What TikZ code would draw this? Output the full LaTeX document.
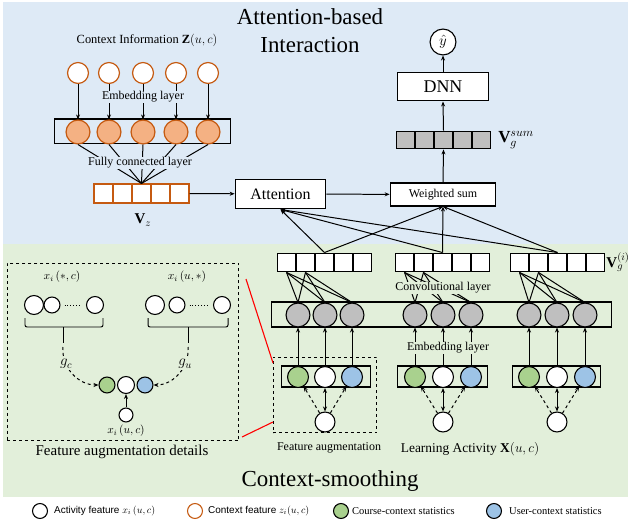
\RequirePackage{fix-cm}
\documentclass[tikz,border=0pt]{standalone}
\usepackage{fontspec}
\setmainfont{Liberation Serif}
\newfontfamily\legendsans{Liberation Sans}
\usepackage{amsmath}
\usepackage{tikz}
\usetikzlibrary{arrows.meta, positioning}
\definecolor{bgblue}{RGB}{222,234,246}
\definecolor{bggreen}{RGB}{226,239,218}
\definecolor{ctxorange}{RGB}{197,90,17}
\definecolor{ctxfill}{RGB}{244,177,131}
\definecolor{crsgreen}{RGB}{169,209,142}
\definecolor{usrblue}{RGB}{157,195,230}
\definecolor{embgray}{RGB}{191,191,191}
\tikzset{
  bigtitle/.style={font=\fontsize{23}{28}\selectfont, align=center, inner sep=0pt},
  ctxin/.style={circle, draw=ctxorange, fill=white, line width=1.2pt, minimum size=21pt, inner sep=0pt},
  ctxemb/.style={circle, draw=ctxorange, fill=ctxfill, line width=1.2pt, minimum size=24pt, inner sep=0pt},
  embnode/.style={circle, draw=black, fill=embgray, line width=1.1pt, minimum size=24pt, inner sep=0pt},
  featnode/.style={circle, draw=black, fill=#1, line width=1.1pt, minimum size=21pt, inner sep=0pt},
  featnode/.default=white,
  dnode/.style={circle, draw=black, fill=#1, line width=1.1pt, minimum size=17pt, inner sep=0pt},
  dnode/.default=white,
  cell/.style={rectangle, draw=#1, fill=white, line width=1pt, minimum width=19pt, minimum height=19pt, inner sep=0pt},
  cell/.default=black,
  layerbox/.style={rectangle, draw=black, line width=1.1pt, inner sep=0pt},
  dashbox/.style={rectangle, draw=black, dashed, line width=1.1pt, inner sep=0pt},
  opbox/.style={rectangle, draw=black, fill=white, line width=1.1pt, inner sep=0pt},
  lbl/.style={fill=#1, inner sep=1pt, font=\fontsize{12}{14}\selectfont},
  lbl/.default=bggreen,
  mathlbl/.style={inner sep=1pt, font=\fontsize{15}{17}\selectfont},
  arr/.style={line width=1pt, -{Stealth[length=5pt, width=4pt]}},
  arrboth/.style={line width=1pt, {Stealth[length=5pt, width=4pt]}-{Stealth[length=5pt, width=4pt]}},
  conn/.style={line width=1pt},
  legtxt/.style={inner sep=1pt, font=\legendsans\fontsize{10}{12}\selectfont},
  legtxtserif/.style={inner sep=1pt, font=\fontsize{10.5}{12}\selectfont},
}

\begin{document}
\begin{tikzpicture}[x=1bp, y=-1bp]
\useasboundingbox (0,0) rectangle (631,522);
% Fonds
\fill[bgblue] (3,2) rectangle (628,244);
\fill[bggreen] (3,244) rectangle (628,497);
% Titres
\node[bigtitle] (ttop) at (310,31) {Attention-based\\Interaction};
\node[bigtitle] (tbot) at (330,481) {Context-smoothing};

% Contexte - entrees
\node[lbl=bgblue, font=\fontsize{12.5}{14}\selectfont] (ctxtitle) at (147,40) {Context Information $\mathbf{Z}(u,c)$};
\node[ctxin] (z1) at (78,73) {};
\node[ctxin] (z2) at (109,73) {};
\node[ctxin] (z3) at (143,73) {};
\node[ctxin] (z4) at (176,73) {};
\node[ctxin] (z5) at (208,73) {};
% Contexte - plongement
\node[layerbox, minimum width=177pt, minimum height=25pt] (zbox) at (142.5,131.5) {};
\node[ctxemb] (e1) at (78,132) {};
\node[ctxemb] (e2) at (109,132) {};
\node[ctxemb] (e3) at (143,132) {};
\node[ctxemb] (e4) at (176,132) {};
\node[ctxemb] (e5) at (208,132) {};
% Vecteur V_z
\foreach \i/\x in {1/103.5,2/122.5,3/141.5,4/160.5,5/179.5}
  \node[cell=ctxorange, line width=1.2pt] (vz\i) at (\x,193.5) {};
\node[mathlbl] (vzlbl) at (143,220) {$\mathbf{V}_z$};

% Attention et somme
\node[opbox, minimum width=91pt, minimum height=30pt, font=\fontsize{16}{18}\selectfont] (att) at (280.5,194) {Attention};
\node[opbox, minimum width=106pt, minimum height=23pt, font=\fontsize{12}{14}\selectfont] (wsum) at (443,194.5) {Weighted sum};
\foreach \i/\x in {1/405.5,2/424.5,3/443.5,4/462.5,5/481.5}
  \node[cell, fill=embgray, minimum height=18pt] (vs\i) at (\x,140) {};
\node[mathlbl, font=\fontsize{17}{19}\selectfont] (vslbl) at (516,140) {$\mathbf{V}_g^{sum}$};
\node[opbox, minimum width=92pt, minimum height=29pt, font=\fontsize{18}{20}\selectfont] (dnn) at (443,86.5) {DNN};
\node[circle, draw, fill=white, line width=1.1pt, minimum size=26pt, inner sep=0pt, font=\fontsize{15}{17}\selectfont] (yhat) at (443,42) {$\hat{y}$};

% Vecteurs V_g^(i)
\foreach \c/\x in {a/286.5,b/305.5,c/324.5,d/343.5,e/362.5}
  \node[cell] (vg1\c) at (\x,262.5) {};
\foreach \c/\x in {a/404.5,b/423.5,c/442.5,d/461.5,e/480.5}
  \node[cell] (vg2\c) at (\x,262.5) {};
\foreach \c/\x in {a/519.5,b/538.5,c/557.5,d/576.5,e/595.5}
  \node[cell] (vg3\c) at (\x,262.5) {};
\node[mathlbl] (vglbl) at (618,262) {$\mathbf{V}_g^{(i)}$};

% Couche de plongement
\node[layerbox, minimum width=341pt, minimum height=25pt] (embrow) at (441.5,314.5) {};
\node[embnode] (h11) at (298,315) {};
\node[embnode] (h12) at (325,315) {};
\node[embnode] (h13) at (352,315) {};
\node[embnode] (h21) at (415,315) {};
\node[embnode] (h22) at (443,315) {};
\node[embnode] (h23) at (471,315) {};
\node[embnode] (h31) at (529,315) {};
\node[embnode] (h32) at (557,315) {};
\node[embnode] (h33) at (585,315) {};

% Features augmentees
\node[layerbox, minimum width=90pt, minimum height=21pt] (fbox1) at (326,376.5) {};
\node[layerbox, minimum width=91pt, minimum height=21pt] (fbox2) at (442.5,376.5) {};
\node[layerbox, minimum width=89pt, minimum height=21pt] (fbox3) at (556.5,376.5) {};
\node[featnode=crsgreen] (f11) at (298,377) {};
\node[featnode] (f12) at (325,377) {};
\node[featnode=usrblue] (f13) at (352,377) {};
\node[featnode=crsgreen] (f21) at (415,377) {};
\node[featnode] (f22) at (443,377) {};
\node[featnode=usrblue] (f23) at (471,377) {};
\node[featnode=crsgreen] (f31) at (529,377) {};
\node[featnode] (f32) at (557,377) {};
\node[featnode=usrblue] (f33) at (585,377) {};
% Activites
\node[featnode, minimum size=20pt] (x1) at (325,422) {};
\node[featnode, minimum size=20pt] (x2) at (443,422) {};
\node[featnode, minimum size=20pt] (x3) at (557,422) {};
\node[dashbox, minimum width=104pt, minimum height=76pt] (faug) at (325,395) {};
\node[lbl, font=\fontsize{12}{14}\selectfont] (fauglbl) at (329,448) {Feature augmentation};
\node[lbl, font=\fontsize{13.5}{15}\selectfont] (actlbl) at (470,449) {Learning Activity $\mathbf{X}(u,c)$};

% Connexions contexte
\foreach \i in {1,...,5}
  \draw[arr] (z\i) -- (e\i);
\node[lbl=bgblue] (embtop) at (143,97) {Embedding layer};
\foreach \i in {1,...,5}
  \draw[conn] (e\i.south) -- (vz3.north);
\node[lbl=bgblue] (fclbl) at (140,163) {Fully connected layer};
\draw[arr] (vz5) -- (att);
\draw[arr] (att) -- (wsum);
\draw[arr] (wsum.north) -- (vs3.south);
\draw[arr] (vs3.north) -- (dnn.south);
\draw[arr] (dnn) -- (yhat);

% Connexions attention
\foreach \g in {1,2,3} {
  \draw[arr] (vg\g c.north) -- (att.south);
  \draw[arr] (vg\g c.north) -- (wsum.south);
}
% Connexions convolution
\foreach \g in {1,2,3}
  \foreach \c in {a,b}
    \foreach \h in {1,2,3}
      \draw[conn] (vg\g\c.south) -- (h\g\h.north);
\node[lbl] (convlbl) at (443,288) {Convolutional layer};
% Connexions plongement
\foreach \g in {1,2,3} {
  \foreach \h in {1,2,3}
    \draw[arr] (f\g\h) -- (h\g\h);
  \draw[arr, dashed] (x\g) -- (f\g1);
  \draw[arrboth] (x\g) -- (f\g2);
  \draw[arr, dashed] (x\g) -- (f\g3);
}
\node[lbl] (emblbl) at (448,348) {Embedding layer};

% Details de l'augmentation
\node[dashbox, minimum width=232pt, minimum height=178pt] (detail) at (123,352) {};
\node[lbl, font=\fontsize{15}{17}\selectfont] (detlbl) at (122,452) {Feature augmentation details};
\node[mathlbl, font=\fontsize{11.5}{13}\selectfont] (xclbl) at (62,277) {$x_i\,(*,c)$};
\node[mathlbl, font=\fontsize{11.5}{13}\selectfont] (xulbl) at (187,277) {$x_i\,(u,*)$};
\node[dnode, minimum size=19pt] (dl1) at (34,305) {};
\node[dnode, minimum size=16pt] (dl2) at (52,305) {};
\node[dnode, minimum size=17pt] (dl3) at (95,305) {};
\node[dnode, minimum size=19pt] (dr1) at (155,305) {};
\node[dnode, minimum size=16pt] (dr2) at (177,305) {};
\node[dnode, minimum size=17pt] (dr3) at (222,305) {};
\draw[line width=1pt, dotted, shorten <=4pt, shorten >=4pt] (dl2) -- (dl3);
\draw[line width=1pt, dotted, shorten <=4pt, shorten >=4pt] (dr2) -- (dr3);
% accolades
\draw[conn, rounded corners=2pt] (25,318) |- (63,327) -| (103,318);
\draw[conn] (63,327) -- (63,343);
\draw[conn, rounded corners=2pt] (148,318) |- (188,327) -| (228,318);
\draw[conn] (188,327) -- (188,343);
\coordinate (gcs) at (63,347);
\coordinate (gus) at (188,347);
\node[dnode=crsgreen, minimum size=16pt] (dg) at (107,385) {};
\node[dnode, minimum size=17pt] (dw) at (126,385) {};
\node[dnode=usrblue, minimum size=16pt] (db) at (145,385) {};
\node[dnode, minimum size=14pt] (dx) at (126,415) {};
\draw[arr, dashed] (gcs) to[out=-95, in=180] node[pos=0.3, fill=bggreen, inner sep=1pt, font=\fontsize{15}{17}\selectfont] {$g_c$} (dg);
\draw[arr, dashed] (gus) to[out=-85, in=0] node[pos=0.3, fill=bggreen, inner sep=1pt, font=\fontsize{15}{17}\selectfont] {$g_u$} (db);
\draw[arr] (dx) -- (dw);
\node[mathlbl, font=\fontsize{11.5}{13}\selectfont] (xuclbl) at (126,431) {$x_i\,(u,c)$};
% Liens rouges
\coordinate (rtop) at (246,279);
\coordinate (rbot) at (242,437);
\coordinate (ftop) at (273,363);
\coordinate (fbot) at (273,422);
\draw[red, line width=1.1pt] (rtop) -- (ftop);
\draw[red, line width=1.1pt] (rbot) -- (fbot);

% Legende
\node[circle, draw=black, line width=1.1pt, minimum size=15pt, inner sep=0pt] (lg1) at (40,511) {};
\node[legtxt, right=5pt of lg1] (lgt1) {Activity feature $x_i\,(u,c)$};
\node[circle, draw=ctxorange, line width=1.1pt, minimum size=15pt, inner sep=0pt] (lg2) at (195,511) {};
\node[legtxt, right=4pt of lg2] (lgt2) {Context feature $z_i(u,c)$};
\node[circle, draw=black, fill=crsgreen, line width=1.1pt, minimum size=15pt, inner sep=0pt] (lg3) at (341,511) {};
\node[legtxtserif, right=2pt of lg3] (lgt3) {Course-context statistics};
\node[circle, draw=black, fill=usrblue, line width=1.1pt, minimum size=15pt, inner sep=0pt] (lg4) at (494,511) {};
\node[legtxtserif, right=6pt of lg4] (lgt4) {User-context statistics};
\end{tikzpicture}
\end{document}
